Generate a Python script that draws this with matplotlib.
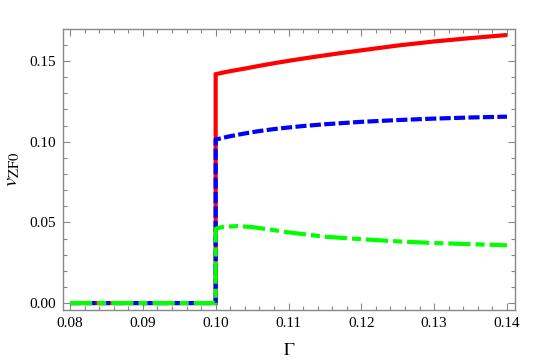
import matplotlib
matplotlib.use("Agg")
import matplotlib.pyplot as plt
from matplotlib.ticker import MultipleLocator, FormatStrFormatter

plt.rcParams['font.family'] = ['Liberation Serif', 'DejaVu Serif']
plt.rcParams['mathtext.fontset'] = 'stix'
plt.rcParams['lines.scale_dashes'] = False

# Data
gamma_red = [0.08, 0.10, 0.10, 0.101, 0.102, 0.104, 0.106, 0.108, 0.11, 0.112, 0.115, 0.118, 0.12, 0.125, 0.13, 0.135, 0.14]
v_red = [0.0, 0.0, 0.1418, 0.1428, 0.1437, 0.1453, 0.1470, 0.1486, 0.1501, 0.1515, 0.1535, 0.1554, 0.1566, 0.1596, 0.1621, 0.1642, 0.1661]

gamma_blue = [0.08, 0.10, 0.10, 0.101, 0.102, 0.104, 0.106, 0.108, 0.11, 0.112, 0.115, 0.12, 0.125, 0.13, 0.135, 0.14]
v_blue = [0.0, 0.0, 0.1013, 0.1024, 0.1034, 0.1051, 0.1066, 0.1078, 0.1088, 0.1097, 0.1108, 0.1123, 0.1134, 0.1143, 0.1150, 0.1155]

gamma_green = [0.08, 0.10, 0.10, 0.1005, 0.101, 0.103, 0.105, 0.108, 0.11, 0.115, 0.12, 0.125, 0.13, 0.135, 0.14]
v_green = [0.0, 0.0, 0.046, 0.0467, 0.0472, 0.0477, 0.0471, 0.0452, 0.0438, 0.0411, 0.0396, 0.0382, 0.0372, 0.0365, 0.0358]

fig = plt.figure(figsize=(5.45, 3.63), dpi=100)
ax = fig.add_axes([0.1156, 0.146, 0.8294, 0.774])

ax.plot(gamma_red, v_red, color='#ff0000', lw=3, solid_capstyle='butt', solid_joinstyle='miter')
ax.plot(gamma_blue, v_blue, color='#0000ff', lw=3, dashes=(8, 2.4), dash_capstyle='butt')
ax.plot(gamma_green, v_green, color='#00ff00', lw=3, dashes=(16, 3.6, 6.5, 3.6), dash_capstyle='butt')

ax.set_xlim(0.07904, 0.1411)
ax.set_ylim(-0.0043, 0.1698)

ax.xaxis.set_major_locator(MultipleLocator(0.01))
ax.xaxis.set_minor_locator(MultipleLocator(0.002))
ax.yaxis.set_major_locator(MultipleLocator(0.05))
ax.yaxis.set_minor_locator(MultipleLocator(0.01))
ax.xaxis.set_major_formatter(FormatStrFormatter('%.2f'))
ax.yaxis.set_major_formatter(FormatStrFormatter('%.2f'))

gray = '#888888'
for s in ax.spines.values():
    s.set_color(gray)
    s.set_linewidth(1.0)
ax.tick_params(which='both', direction='in', top=True, right=True, color=gray, width=0.8)
ax.tick_params(which='major', length=5, labelsize=11, pad=5)
ax.tick_params(which='minor', length=3)

ax.set_xlabel(r'$\Gamma$', fontsize=13, labelpad=9)
ax.set_ylabel(r'$v_{\mathrm{ZF0}}$', fontsize=15, labelpad=5)

fig.savefig('out.png', dpi=100)
